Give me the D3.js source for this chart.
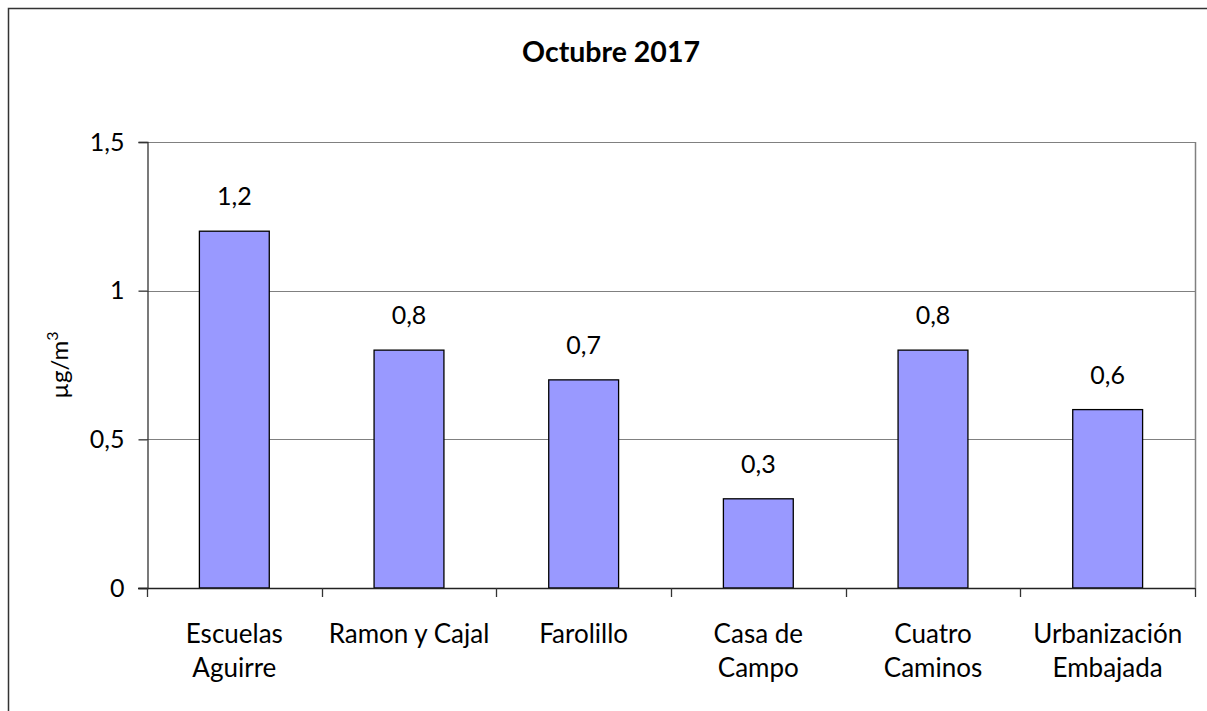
<!DOCTYPE html>
<html>
<head>
<meta charset="utf-8">
<script src="https://cdn.jsdelivr.net/npm/d3@7"></script>
<style>
  html, body { margin: 0; padding: 0; background: #fff; }
  svg { display: block; }
  text { font-family: Lato, "Open Sans", sans-serif; fill: #000; }
</style>
</head>
<body>
<svg id="chart" width="1207" height="711"></svg>
<script>
const categories = [["Escuelas", "Aguirre"], ["Ramon y Cajal"], ["Farolillo"], ["Casa de", "Campo"], ["Cuatro", "Caminos"], ["Urbanización", "Embajada"]];
const values = [1.2, 0.8, 0.7, 0.3, 0.8, 0.6];
const valueLabels = ["1,2", "0,8", "0,7", "0,3", "0,8", "0,6"];
const yTicks = [0, 0.5, 1, 1.5];
const yTickLabels = ["0", "0,5", "1", "1,5"];
const title = "Octubre 2017";

const svg = d3.select("#chart");
const plot = { left: 147, right: 1195, top: 142, bottom: 588 };
const FS = 25;

// outer chart frame (extends beyond the viewport on right/bottom)
svg.append("rect")
  .attr("x", 8.5).attr("y", 8.5)
  .attr("width", 1220).attr("height", 720)
  .attr("fill", "#fff").attr("stroke", "#333").attr("stroke-width", 1.5);

const x = d3.scaleBand()
  .domain(d3.range(categories.length))
  .range([plot.left, plot.right])
  .paddingInner(0).paddingOuter(0);

const y = d3.scaleLinear().domain([0, 1.5]).range([plot.bottom, plot.top]);

// gridlines
svg.append("g")
  .selectAll("line")
  .data(yTicks.filter(d => d > 0))
  .join("line")
  .attr("x1", plot.left).attr("x2", plot.right)
  .attr("y1", d => Math.round(y(d)) + 0.5).attr("y2", d => Math.round(y(d)) + 0.5)
  .attr("stroke", "#808080").attr("stroke-width", 1.2);

// right border of plot area
svg.append("line")
  .attr("x1", plot.right + 0.5).attr("x2", plot.right + 0.5)
  .attr("y1", plot.top).attr("y2", plot.bottom)
  .attr("stroke", "#808080").attr("stroke-width", 1.5);

// bars
const barW = x.bandwidth() * 0.4;
svg.append("g")
  .selectAll("rect")
  .data(values)
  .join("rect")
  .attr("x", (d, i) => x(i) + (x.bandwidth() - barW) / 2)
  .attr("y", d => y(d))
  .attr("width", barW)
  .attr("height", d => y(0) - y(d))
  .attr("fill", "#9999FF")
  .attr("stroke", "#000").attr("stroke-width", 1.3);

// value labels
svg.append("g")
  .selectAll("text")
  .data(values)
  .join("text")
  .attr("x", (d, i) => x(i) + x.bandwidth() / 2)
  .attr("y", d => y(d) - 26)
  .attr("text-anchor", "middle")
  .attr("font-size", FS)
  .text((d, i) => valueLabels[i]);

// y axis
const yAxis = d3.axisLeft(y)
  .tickValues(yTicks)
  .tickFormat((d, i) => yTickLabels[i])
  .tickSize(9)
  .tickPadding(14);
const gy = svg.append("g").attr("transform", `translate(${plot.left + 0.5},0)`).call(yAxis);
gy.select(".domain").attr("stroke", "#333").attr("stroke-width", 1.3);
gy.selectAll(".tick line").attr("stroke", "#333").attr("stroke-width", 1.3);
gy.selectAll(".tick text").attr("font-size", FS).attr("font-family", "Lato, sans-serif").attr("fill", "#000");

// x axis line with boundary ticks
const gx = svg.append("g");
gx.append("line")
  .attr("x1", plot.left - 9).attr("x2", plot.right)
  .attr("y1", plot.bottom + 0.5).attr("y2", plot.bottom + 0.5)
  .attr("stroke", "#222").attr("stroke-width", 1.3);
const bounds = d3.range(categories.length + 1).map(i => i < categories.length ? x(i) : x(i - 1) + x.bandwidth());
gx.selectAll("line.tick")
  .data(bounds)
  .join("line")
  .attr("class", "tick")
  .attr("x1", d => Math.round(d) + 0.5).attr("x2", d => Math.round(d) + 0.5)
  .attr("y1", plot.bottom).attr("y2", plot.bottom + 9)
  .attr("stroke", "#333").attr("stroke-width", 1.3);

// category labels
const catG = svg.append("g")
  .selectAll("text")
  .data(categories)
  .join("text")
  .attr("x", (d, i) => x(i) + x.bandwidth() / 2)
  .attr("y", 643)
  .attr("text-anchor", "middle")
  .attr("font-size", 26);
catG.selectAll("tspan")
  .data(d => d)
  .join("tspan")
  .attr("x", function() { return d3.select(this.parentNode).attr("x"); })
  .attr("dy", (d, i) => i === 0 ? 0 : 33.5)
  .text(d => d);

// title
svg.append("text")
  .attr("x", 611).attr("y", 62)
  .attr("text-anchor", "middle")
  .attr("font-size", 28.5).attr("font-weight", "bold")
  .text(title);

// y axis title
const yt = svg.append("text")
  .attr("transform", `translate(68,${(plot.top + plot.bottom) / 2}) rotate(-90)`)
  .attr("text-anchor", "middle")
  .attr("font-size", 24);
yt.append("tspan").text("µg/m");
yt.append("tspan").attr("font-size", 16).attr("dy", -10).text("3");
</script>
</body>
</html>
